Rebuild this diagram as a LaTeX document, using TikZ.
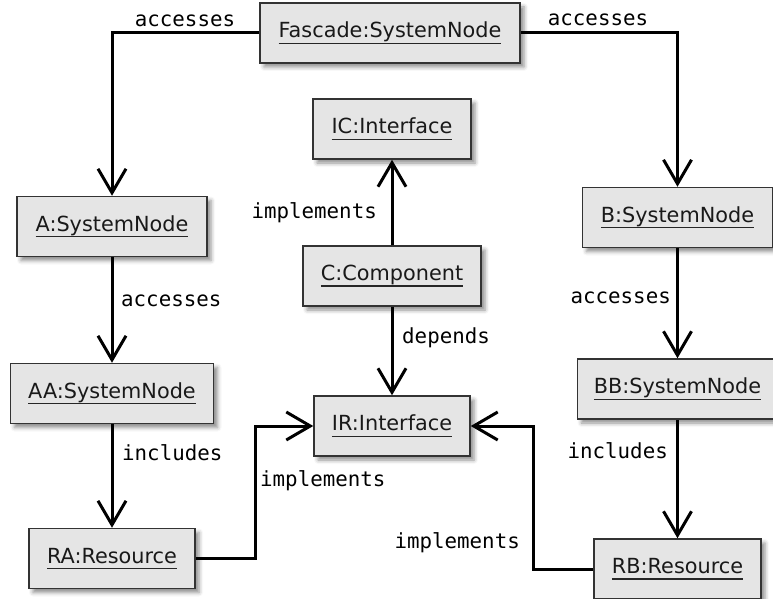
\documentclass[tikz,border=0pt]{standalone}
\usepackage{fontspec}
\setmainfont{DejaVu Sans}
\newfontfamily\labelfont{DejaVu Sans Mono}
\usetikzlibrary{arrows.meta,shadows.blur}

% underlined object name, rule at a fixed depth below the baseline
\newcommand\objname[1]{\setbox0\hbox{#1}\rlap{\color{black!85}\rule[-6pt]{\wd0}{1.3pt}}\box0}

\tikzset{
  obj/.style={draw=black!80, line width=1.5pt, fill=black!10,
    text=black!90, inner sep=0pt, minimum height=60pt,
    font=\fontsize{20.8}{25}\selectfont,
    blur shadow={shadow xshift=4pt, shadow yshift=-4pt,
      shadow blur radius=4pt, shadow opacity=45}},
  rel/.style={line width=3pt, black,
    -{Straight Barb[length=24pt,width=28pt,sharp]}},
  lbl/.style={inner sep=0pt, font=\labelfont\fontsize{20.8}{25}\selectfont}
}

\begin{document}
\begin{tikzpicture}[x=1pt, y=-1pt]
\useasboundingbox (0,0) rectangle (773,599);

% objects
\node[obj, minimum width=260pt] (F)  at (390,33)    {\objname{Fascade:SystemNode}};
\node[obj, minimum width=190pt] (A)  at (112,226.5) {\objname{A:SystemNode}};
\node[obj, minimum width=203pt] (AA) at (112,393.5) {\objname{AA:SystemNode}};
\node[obj, minimum width=166pt] (RA) at (112,558.5) {\objname{RA:Resource}};
\node[obj, minimum width=158pt] (IC) at (392,129)   {\objname{IC:Interface}};
\node[obj, minimum width=178pt] (C)  at (392,276)   {\objname{C:Component}};
\node[obj, minimum width=156pt] (IR) at (392,426)   {\objname{IR:Interface}};
\node[obj, minimum width=190pt] (B)  at (677.5,217.5) {\objname{B:SystemNode}};
\node[obj, minimum width=200pt] (BB) at (677.5,389) {\objname{BB:SystemNode}};
\node[obj, minimum width=167pt] (RB) at (677.5,569) {\objname{RB:Resource}};

% bend columns of the two implements links
\coordinate (jL) at (255,0);
\coordinate (jR) at (533,0);

% relations
\draw[rel] (F.west) -| (A.north);
\draw[rel] (F.east) -| (B.north);
\draw[rel] (A.south) -- (AA.north);
\draw[rel] (AA.south) -- (RA.north);
\draw[rel] (C.north) -- (IC.south);
\draw[rel] (C.south) -- (IR.north);
\draw[rel] (B.south) -- (BB.north);
\draw[rel] (BB.south) -- (RB.north);
\draw[rel] (RA.east) -- (RA.east -| jL) |- (IR.west);
\draw[rel] (RB.west) -- (RB.west -| jR) |- (IR.east);

% relation labels
\node[lbl, anchor=base] (l1) at (185,27) {accesses};
\node[lbl, anchor=base] (l2) at (598,26) {accesses};
\node[lbl, anchor=base west] (l3) at (121,306) {accesses};
\node[lbl, anchor=base west] (l4) at (122,460) {includes};
\node[lbl, anchor=base east] (l5) at (377,218) {implements};
\node[lbl, anchor=base west] (l6) at (402,343) {depends};
\node[lbl, anchor=base west] (l7) at (260,486) {implements};
\node[lbl, anchor=base east] (l8) at (520,548) {implements};
\node[lbl, anchor=base east] (l9) at (671,303) {accesses};
\node[lbl, anchor=base east] (l10) at (668,458) {includes};
\end{tikzpicture}
\end{document}
